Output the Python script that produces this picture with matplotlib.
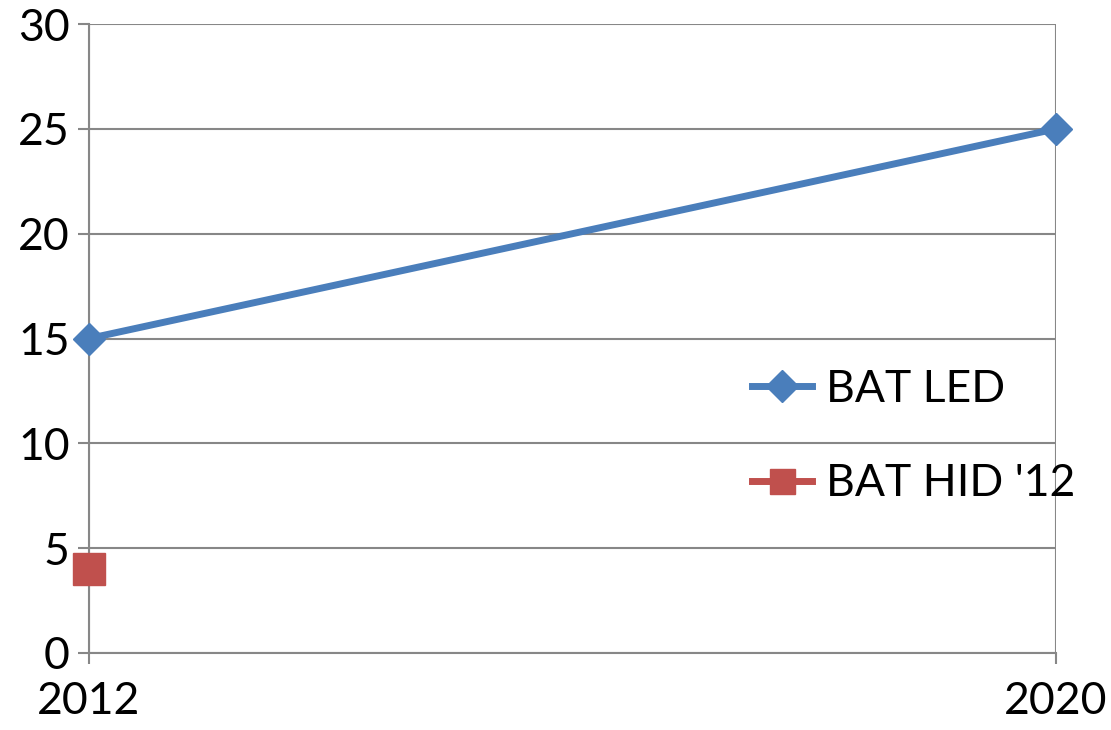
import matplotlib.pyplot as plt
from matplotlib.lines import Line2D

years = ['2012', '2020']
bat_led = [15, 25]
bat_hid_12 = [4]

plt.rcParams['font.family'] = ['Lato', 'DejaVu Sans']

fig = plt.figure(figsize=(11.11, 7.30), dpi=100)
ax = fig.add_axes([0.0801, 0.1055, 0.8704, 0.8616])

grid_c = '#878787'
blue = '#4A7EBB'
red = '#C0504D'
ax.plot(range(len(bat_led)), bat_led, color=blue, linewidth=5,
        marker='D', markersize=16, clip_on=False, zorder=3)
ax.plot(range(len(bat_hid_12)), bat_hid_12, color=red,
        marker='s', markersize=23, linestyle='none', clip_on=False, zorder=3)

ax.set_xlim(0, 1)
ax.set_ylim(0, 30)
ax.set_xticks(range(len(years)))
ax.set_xticklabels(years)
ax.set_yticks(range(0, 31, 5))

ax.grid(True, color=grid_c, linewidth=1.5)
ax.set_axisbelow(True)
for s in ['top', 'right']:
    ax.spines[s].set_visible(False)
for s in ['left', 'bottom']:
    ax.spines[s].set_color(grid_c)
    ax.spines[s].set_linewidth(1.5)
ax.tick_params(axis='both', colors=grid_c, labelcolor='black', labelsize=32,
               width=1.5, length=8)
ax.tick_params(axis='x', pad=12)
ax.tick_params(axis='y', pad=6)

# legend handles: line with marker
handles = [
    Line2D([], [], color=blue, linewidth=5, marker='D', markersize=16),
    Line2D([], [], color=red, linewidth=5, marker='s', markersize=18),
]
ax.legend(handles, ['BAT LED', "BAT HID '12"], frameon=False, fontsize=32,
          handlelength=1.35, handletextpad=0.3, labelspacing=1.2,
          borderpad=0, loc='upper left', bbox_to_anchor=(0.663, 0.487))

plt.savefig('out.png', dpi=100)
